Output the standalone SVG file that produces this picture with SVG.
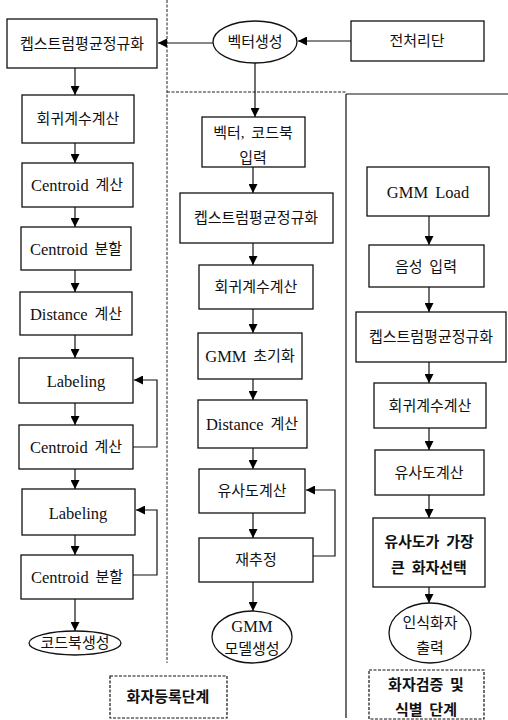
<svg xmlns="http://www.w3.org/2000/svg" width="508" height="720" viewBox="0 0 508 720">
<defs>
<marker id="ah" viewBox="0 0 10 10" refX="10" refY="5" markerWidth="9" markerHeight="9" markerUnits="userSpaceOnUse" orient="auto">
<path d="M0,0 L10,5 L0,10 Z" fill="#000"/>
</marker>
</defs>
<style>
.b{fill:#fff;stroke:#111;stroke-width:1.3}
.s{fill:#fff;stroke:#111;stroke-width:1.2;stroke-dasharray:3 1.5}
.t{font-family:"Liberation Serif","Noto Sans CJK KR",serif;font-size:15px;fill:#111;text-anchor:middle;dominant-baseline:central;word-spacing:3px}
.e{font-size:16.5px}
.k{font-weight:bold}
.c{fill:none;stroke:#111;stroke-width:1.2;marker-end:url(#ah)}
.l{fill:none;stroke:#111;stroke-width:1.2}
.d{fill:none;stroke:#222;stroke-width:1;stroke-dasharray:3 1.5}
</style>
<rect width="508" height="720" fill="#fff"/>
<g id="dividers">
<path class="d" d="M167,0 V663"/>
<path class="d" d="M167,92 H346"/>
<path class="l" d="M346,94 V718 M346,94 H508"/>
</g>
<g id="connectors">
<path class="c" d="M213,43 H158"/>
<path class="c" d="M351,41 H298"/>
<path class="c" d="M75,68 V95"/>
<path class="c" d="M75,143 V163"/>
<path class="c" d="M75,207 V227"/>
<path class="c" d="M75,270 V292"/>
<path class="c" d="M75,335 V358"/>
<path class="c" d="M75,403 V425"/>
<path class="c" d="M75,469 V489"/>
<path class="c" d="M75,535 V555"/>
<path class="c" d="M75,599 V631"/>
<path class="c" d="M133,447 H157 V380 H134"/>
<path class="c" d="M133,575 H157 V510 H136"/>
<path class="c" d="M255,63 V117"/>
<path class="c" d="M253,167 V193"/>
<path class="c" d="M253,243 V265"/>
<path class="c" d="M253,309 V333"/>
<path class="c" d="M253,379 V400"/>
<path class="c" d="M253,448 V469"/>
<path class="c" d="M253,513 V538"/>
<path class="c" d="M253,582 V611"/>
<path class="c" d="M313,556 H335 V490 H306"/>
<path class="c" d="M429,216 V245"/>
<path class="c" d="M429,287 V312"/>
<path class="c" d="M429,362 V383"/>
<path class="c" d="M429,428 V450"/>
<path class="c" d="M429,495 V518"/>
<path class="c" d="M429,587 V603"/>
</g>
<g id="vec"><ellipse class="b" cx="255" cy="42" rx="42" ry="21"/><text class="t" x="255" y="42">벡터생성</text></g>
<g id="pre"><rect class="b" x="351" y="21" width="133" height="40"/><text class="t" x="417" y="41">전처리단</text></g>
<g id="l1"><rect class="b" x="7" y="19" width="150" height="49"/><text class="t" x="82" y="44">켑스트럼평균정규화</text></g>
<g id="l2"><rect class="b" x="22" y="95" width="112" height="48"/><text class="t" x="78" y="119">회귀계수계산</text></g>
<g id="l3"><rect class="b" x="22" y="163" width="111" height="44"/><text class="t" x="77" y="185"><tspan class="e">Centroid</tspan> 계산</text></g>
<g id="l4"><rect class="b" x="21" y="227" width="110" height="43"/><text class="t" x="76" y="249"><tspan class="e">Centroid</tspan> 분할</text></g>
<g id="l5"><rect class="b" x="20" y="292" width="112" height="43"/><text class="t" x="76" y="314"><tspan class="e">Distance</tspan> 계산</text></g>
<g id="l6"><rect class="b" x="19" y="358" width="114" height="45"/><text class="t e" x="76" y="381">Labeling</text></g>
<g id="l7"><rect class="b" x="19" y="425" width="114" height="44"/><text class="t" x="76" y="447"><tspan class="e">Centroid</tspan> 계산</text></g>
<g id="l8"><rect class="b" x="22" y="489" width="113" height="46"/><text class="t e" x="78" y="513">Labeling</text></g>
<g id="l9"><rect class="b" x="21" y="555" width="112" height="44"/><text class="t" x="77" y="577"><tspan class="e">Centroid</tspan> 분할</text></g>
<g id="l10"><ellipse class="b" cx="75" cy="643" rx="46" ry="12"/><text class="t" x="75" y="643">코드북생성</text></g>
<g id="m1"><rect class="b" x="202" y="117" width="103" height="50"/><text class="t" x="253" y="133">벡터, 코드북</text><text class="t" x="253" y="158">입력</text></g>
<g id="m2"><rect class="b" x="180" y="193" width="153" height="50"/><text class="t" x="256" y="218">켑스트럼평균정규화</text></g>
<g id="m3"><rect class="b" x="199" y="265" width="114" height="44"/><text class="t" x="256" y="287">회귀계수계산</text></g>
<g id="m4"><rect class="b" x="198" y="333" width="104" height="46"/><text class="t" x="250" y="356"><tspan class="e">GMM</tspan> 초기화</text></g>
<g id="m5"><rect class="b" x="198" y="400" width="109" height="48"/><text class="t" x="252" y="424"><tspan class="e">Distance</tspan> 계산</text></g>
<g id="m6"><rect class="b" x="199" y="469" width="106" height="44"/><text class="t" x="252" y="491">유사도계산</text></g>
<g id="m7"><rect class="b" x="199" y="538" width="114" height="44"/><text class="t" x="256" y="560">재추정</text></g>
<g id="m8"><ellipse class="b" cx="252" cy="637" rx="40" ry="26"/><text class="t e" x="252" y="626">GMM</text><text class="t" x="252" y="649">모델생성</text></g>
<g id="r1"><rect class="b" x="367" y="167" width="122" height="49"/><text class="t e" x="428" y="192">GMM Load</text></g>
<g id="r2"><rect class="b" x="369" y="245" width="115" height="42"/><text class="t" x="426" y="267">음성 입력</text></g>
<g id="r3"><rect class="b" x="356" y="312" width="150" height="50"/><text class="t" x="431" y="337">켑스트럼평균정규화</text></g>
<g id="r4"><rect class="b" x="374" y="383" width="112" height="45"/><text class="t" x="430" y="406">회귀계수계산</text></g>
<g id="r5"><rect class="b" x="375" y="450" width="109" height="45"/><text class="t" x="429" y="473">유사도계산</text></g>
<g id="r6"><rect class="b" x="373" y="518" width="112" height="69"/><text class="t k" x="429" y="542">유사도가 가장</text><text class="t k" x="429" y="568">큰 화자선택</text></g>
<g id="r7"><ellipse class="b" cx="430" cy="633" rx="41" ry="30"/><text class="t" x="430" y="623">인식화자</text><text class="t" x="430" y="648">출력</text></g>
<g id="stage1"><rect class="s" x="110" y="676" width="117" height="42"/><text class="t k" x="168" y="697">화자등록단계</text></g>
<g id="stage2"><rect class="s" x="369" y="670" width="115" height="49"/><text class="t k" x="426" y="685">화자검증 및</text><text class="t k" x="426" y="710">식별 단계</text></g>
</svg>
